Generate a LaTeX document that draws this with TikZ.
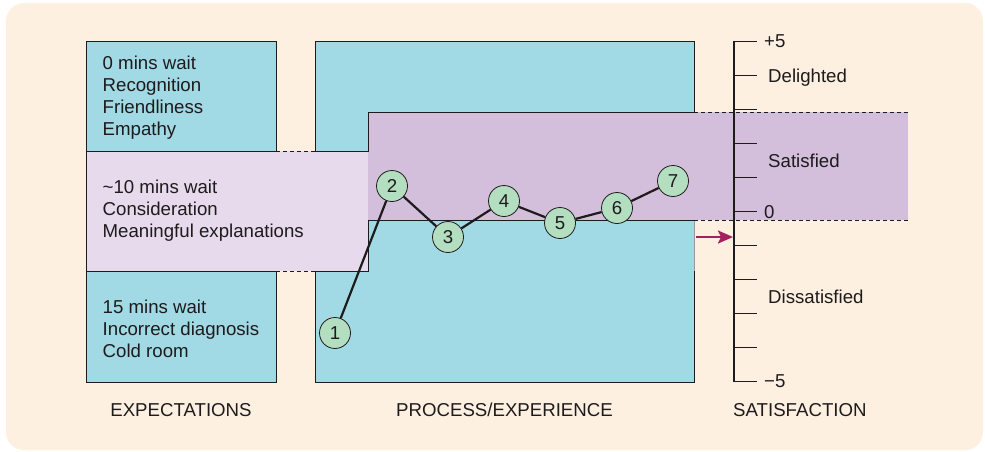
\documentclass[tikz,border=0pt]{standalone}
\usepackage{fontspec}
\setmainfont{Liberation Sans}
\usetikzlibrary{arrows.meta}

\definecolor{cream}{HTML}{FDF0E1}
\definecolor{boxblue}{HTML}{A1D9E5}
\definecolor{lightlilac}{HTML}{E7DAEC}
\definecolor{lilac}{HTML}{D3BEDB}
\definecolor{mint}{HTML}{B3DEC0}
\definecolor{berry}{HTML}{A3215E}
\definecolor{ink}{HTML}{1E1B1C}

\begin{document}
\begin{tikzpicture}
		[x=1pt,y=-1pt,font=\fontsize{18.65}{22}\selectfont,text=ink,
		 outline/.style={draw=ink,line width=0.9pt},
		 gapline/.style={outline,dash pattern=on 4pt off 3pt},
		 touch/.style={circle,draw=ink,line width=0.8pt,fill=mint,minimum size=31pt,inner sep=0pt},
		 scaletick/.style={draw=ink,line width=1.4pt},
		 lbl/.style={anchor=base west,inner sep=0pt}]
		\useasboundingbox (0,0) rectangle (985,451);
		\fill[cream,rounded corners=18pt] (6,3) rectangle (983,450);

		% boxes
		\filldraw[fill=boxblue,outline] (86,41) rectangle (276,382);
		\fill[boxblue] (315,41) rectangle (694,382);
		\draw[outline] (694,112) -- (694,41) -- (315,41) -- (315,382) -- (694,382) -- (694,271);
		\draw[ink!45,line width=0.6pt] (694,220) -- (694,271);

		% bands
		\fill[lightlilac] (86,151) rectangle (368,271);
		\fill[lilac] (368,112) rectangle (908,220);
		\draw[outline] (276,151) -- (86,151) -- (86,271) -- (276,271);
		\draw[gapline] (276,151) -- (315,151);
		\draw[gapline] (276,271) -- (315,271);
		\draw[outline] (315,151) -- (368,151) -- (368,112) -- (694,112);
		\draw[outline] (315,271) -- (368,271) -- (368,220) -- (694,220);
		\draw[gapline] (694,112) -- (908,112);
		\draw[gapline] (694,220) -- (908,220);

		\node[anchor=north west,align=left,inner sep=0pt] (high) at (102.5,56) {0 mins wait\\Recognition\\Friendliness\\Empathy};
		\node[anchor=north west,align=left,inner sep=0pt] (mid) at (102.5,180) {\textasciitilde10 mins wait\\Consideration\\Meaningful explanations};
		\node[anchor=north west,align=left,inner sep=0pt] (low) at (102.5,300) {15 mins wait\\Incorrect diagnosis\\Cold room};

		% experience
		\foreach \i/\x/\y in {1/335/333,2/392/186,3/448/237,4/504/201,5/560/223,6/617/208,7/673/181}
			\node[touch] (t\i) at (\x,\y) {\i};
		\draw[ink,line width=2.2pt] (t1) -- (t2) -- (t3) -- (t4) -- (t5) -- (t6) -- (t7);

		% scale
		\coordinate (top) at (734,41.7);
		\coordinate (bottom) at (734,382);
		\draw[ink,line width=2.6pt] (top) -- (bottom);
		\foreach \k in {0,...,10}
			\draw[scaletick] (733,{41.7+34*\k}) -- (757,{41.7+34*\k});

		\coordinate (outcome) at (696,237);
		\coordinate (score) at (733,237);
		\draw[berry,line width=2.2pt,-{Stealth[length=15pt,width=13pt,inset=3pt]}] (outcome) -- (score);

		\node[lbl] (plus) at (764,47.3) {+5};
		\node[lbl] (delighted) at (768,82) {Delighted};
		\node[lbl] (satisfied) at (768,167) {Satisfied};
		\node[lbl] (zero) at (764,218.3) {0};
		\node[lbl] (dissatisfied) at (768,303) {Dissatisfied};
		\node[lbl] (minus) at (764,387.7) {−5};

		\node[anchor=base,inner sep=0pt] (expectations) at (181,416.5) {EXPECTATIONS};
		\node[anchor=base,inner sep=0pt] (process) at (504.5,416.5) {PROCESS/EXPERIENCE};
		\node[lbl] (satisfaction) at (733,416.5) {SATISFACTION};

	\end{tikzpicture}
\end{document}
